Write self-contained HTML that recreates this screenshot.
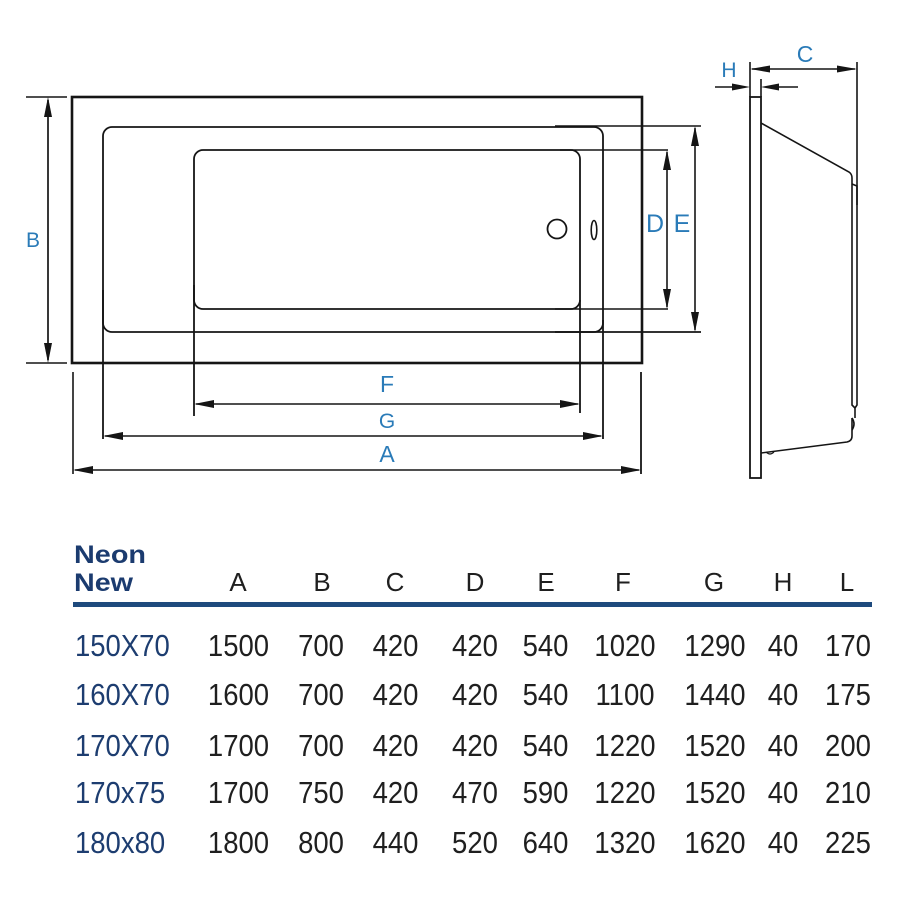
<!DOCTYPE html>
<html>
<head>
<meta charset="utf-8">
<style>
html,body{margin:0;padding:0;background:#fff;}
svg{display:block;}
</style>
</head>
<body>
<svg width="900" height="900" viewBox="0 0 900 900" xmlns="http://www.w3.org/2000/svg" font-family="'Liberation Sans', Arial, sans-serif">
<rect x="0" y="0" width="900" height="900" fill="#fff"/>

<!-- ===== Top view ===== -->
<g fill="none" stroke="#151515">
  <rect x="72" y="97" width="570" height="266" stroke-width="2.6"/>
  <rect x="103" y="127" width="500" height="205" rx="9" stroke-width="1.8"/>
  <rect x="194" y="150" width="386" height="159" rx="9" stroke-width="1.8"/>
  <!-- drain + overflow -->
  <circle cx="557" cy="229" r="9.5" stroke-width="1.8"/>
  <ellipse cx="594" cy="230" rx="2.8" ry="9.5" stroke-width="1.6"/>

  <!-- B extension + dim -->
  <line x1="26" y1="97" x2="67" y2="97" stroke-width="1.6"/>
  <line x1="26" y1="363" x2="67" y2="363" stroke-width="1.6"/>
  <line x1="48" y1="100" x2="48" y2="360" stroke-width="1.7"/>

  <!-- vertical extension lines -->
  <line x1="103" y1="290" x2="103" y2="439" stroke-width="1.8"/>
  <line x1="603" y1="320" x2="603" y2="439" stroke-width="1.8"/>
  <line x1="194" y1="285" x2="194" y2="416" stroke-width="1.8"/>
  <line x1="580" y1="300" x2="580" y2="413" stroke-width="1.8"/>
  <line x1="73" y1="372" x2="73" y2="474" stroke-width="1.6"/>
  <line x1="641" y1="372" x2="641" y2="474" stroke-width="1.8"/>

  <!-- D / E extension lines -->
  <line x1="560" y1="150" x2="668" y2="150" stroke-width="1.5"/>
  <line x1="555" y1="309" x2="668" y2="309" stroke-width="1.5"/>
  <line x1="555" y1="126" x2="701" y2="126" stroke-width="1.5"/>
  <line x1="555" y1="332" x2="701" y2="332" stroke-width="1.8"/>
  <line x1="667" y1="152" x2="667" y2="307" stroke-width="1.6"/>
  <line x1="695" y1="128" x2="695" y2="330" stroke-width="1.6"/>

  <!-- F G A dim lines -->
  <line x1="196" y1="404" x2="578" y2="404" stroke-width="1.6"/>
  <line x1="105" y1="436" x2="601" y2="436" stroke-width="1.6"/>
  <line x1="75" y1="470" x2="639" y2="470" stroke-width="1.6"/>
</g>

<g fill="#151515">
  <!-- B -->
  <polygon points="48,97 44,117 52,117"/>
  <polygon points="48,363 44,343 52,343"/>
  <!-- D -->
  <polygon points="667,150 663,170 671,170"/>
  <polygon points="667,309 663,289 671,289"/>
  <!-- E -->
  <polygon points="695,126 691,146 699,146"/>
  <polygon points="695,332 691,312 699,312"/>
  <!-- F -->
  <polygon points="194,404 214,400 214,408"/>
  <polygon points="580,404 560,400 560,408"/>
  <!-- G -->
  <polygon points="103,436 123,432 123,440"/>
  <polygon points="603,436 583,432 583,440"/>
  <!-- A -->
  <polygon points="73,470 93,466 93,474"/>
  <polygon points="641,470 621,466 621,474"/>
</g>

<!-- labels top view -->
<g fill="#2a7bb8" text-anchor="middle">
  <text x="33" y="247" font-size="21">B</text>
  <text x="655" y="232" font-size="25">D</text>
  <text x="682" y="232" font-size="25">E</text>
  <text x="387" y="392" font-size="23">F</text>
  <text x="387" y="428" font-size="21">G</text>
  <text x="387" y="462" font-size="23">A</text>
</g>

<!-- ===== Side view ===== -->
<g fill="none" stroke="#151515">
  <rect x="750" y="97" width="11" height="381" stroke-width="1.8"/>
  <!-- H extensions -->
  <line x1="750" y1="62" x2="750" y2="97" stroke-width="1.6"/>
  <line x1="761" y1="79" x2="761" y2="97" stroke-width="1.6"/>
  <!-- H arrows lines -->
  <line x1="715" y1="87" x2="740" y2="87" stroke-width="1.5"/>
  <line x1="771" y1="87" x2="798" y2="87" stroke-width="1.5"/>
  <!-- C dim -->
  <line x1="752" y1="69" x2="855" y2="69" stroke-width="1.5"/>
  <line x1="857" y1="62" x2="857" y2="205" stroke-width="1.6"/>
  <!-- tub body -->
  <path d="M761 123 L849 172 Q852 174 852 178 L852 405 L855 408" stroke-width="1.6"/>
  <path d="M852 184 L857 186 L857 405 L855 408 L855 418" stroke-width="1.6"/>
  <path d="M852 418 Q856 424 852 430" stroke-width="1.6"/>
  <path d="M852 418 L852 436 Q852 441 847 442 L761 453" stroke-width="1.6"/>
  <path d="M766 452 Q770 456 774 452" stroke-width="1.2"/>
</g>
<g fill="#151515">
  <polygon points="750,87 732,83.5 732,90.5"/>
  <polygon points="761,87 779,83.5 779,90.5"/>
  <polygon points="750,69 770,65.5 770,72.5"/>
  <polygon points="857,69 837,65.5 837,72.5"/>
</g>
<g fill="#2a7bb8" text-anchor="middle">
  <text x="729" y="77" font-size="21">H</text>
  <text x="805" y="62" font-size="23">C</text>
</g>

<!-- ===== Table ===== -->
<g fill="#1b3b6f" font-weight="bold" font-size="25">
  <text x="74" y="563" textLength="72" lengthAdjust="spacingAndGlyphs">Neon</text>
  <text x="74" y="591" textLength="59" lengthAdjust="spacingAndGlyphs">New</text>
</g>
<g fill="#1f1f1f" font-size="26" text-anchor="middle">
  <text x="238" y="591">A</text>
  <text x="322" y="591">B</text>
  <text x="395" y="591">C</text>
  <text x="475" y="591">D</text>
  <text x="546" y="591">E</text>
  <text x="623" y="591">F</text>
  <text x="714" y="591">G</text>
  <text x="783" y="591">H</text>
  <text x="847" y="591">L</text>
</g>
<rect x="73" y="602" width="799" height="5" fill="#1e4a7d"/>

<g font-size="27.5">
  <g transform="translate(0,656) scale(1,1.1)">
    <text x="75" y="0" fill="#1d3d70">150X70</text>
    <g fill="#1f1f1f" text-anchor="middle">
      <text x="238.5" y="0">1500</text><text x="321" y="0">700</text><text x="395.5" y="0">420</text><text x="475" y="0">420</text><text x="545.5" y="0">540</text><text x="625" y="0">1020</text><text x="715" y="0">1290</text><text x="783" y="0">40</text><text x="848" y="0">170</text>
    </g>
  </g>
  <g transform="translate(0,705) scale(1,1.1)">
    <text x="75" y="0" fill="#1d3d70">160X70</text>
    <g fill="#1f1f1f" text-anchor="middle">
      <text x="238.5" y="0">1600</text><text x="321" y="0">700</text><text x="395.5" y="0">420</text><text x="475" y="0">420</text><text x="545.5" y="0">540</text><text x="625" y="0">1100</text><text x="715" y="0">1440</text><text x="783" y="0">40</text><text x="848" y="0">175</text>
    </g>
  </g>
  <g transform="translate(0,756) scale(1,1.1)">
    <text x="75" y="0" fill="#1d3d70">170X70</text>
    <g fill="#1f1f1f" text-anchor="middle">
      <text x="238.5" y="0">1700</text><text x="321" y="0">700</text><text x="395.5" y="0">420</text><text x="475" y="0">420</text><text x="545.5" y="0">540</text><text x="625" y="0">1220</text><text x="715" y="0">1520</text><text x="783" y="0">40</text><text x="848" y="0">200</text>
    </g>
  </g>
  <g transform="translate(0,803) scale(1,1.1)">
    <text x="75" y="0" fill="#1d3d70">170x75</text>
    <g fill="#1f1f1f" text-anchor="middle">
      <text x="238.5" y="0">1700</text><text x="321" y="0">750</text><text x="395.5" y="0">420</text><text x="475" y="0">470</text><text x="545.5" y="0">590</text><text x="625" y="0">1220</text><text x="715" y="0">1520</text><text x="783" y="0">40</text><text x="848" y="0">210</text>
    </g>
  </g>
  <g transform="translate(0,853) scale(1,1.1)">
    <text x="75" y="0" fill="#1d3d70">180x80</text>
    <g fill="#1f1f1f" text-anchor="middle">
      <text x="238.5" y="0">1800</text><text x="321" y="0">800</text><text x="395.5" y="0">440</text><text x="475" y="0">520</text><text x="545.5" y="0">640</text><text x="625" y="0">1320</text><text x="715" y="0">1620</text><text x="783" y="0">40</text><text x="848" y="0">225</text>
    </g>
  </g>
</g>
</svg>
</body>
</html>
